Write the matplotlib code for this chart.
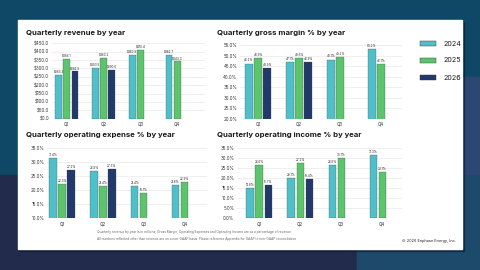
import numpy as np
import matplotlib.pyplot as plt
from matplotlib.patches import Rectangle

W, H = 480, 270

quarters = ['Q1', 'Q2', 'Q3', 'Q4']
years = ['2024', '2025', '2026']
colors = ['#4fc0c9', '#5cc46c', '#213a6b']

revenue = {
    '2024': [263.3, 303.5, 380.9, 382.7],
    '2025': [356.1, 363.2, 410.4, 343.3],
    '2026': [282.9, 290.6, None, None],
}
gross_margin = {
    '2024': [46.2, 47.1, 48.1, 53.2],
    '2025': [48.9, 48.6, 49.2, 46.1],
    '2026': [43.9, 46.9, None, None],
}
opex = {
    '2024': [31.4, 26.9, 21.4, 21.8],
    '2025': [22.3, 21.4, 19.1, 22.9],
    '2026': [27.2, 27.3, None, None],
}
op_income = {
    '2024': [14.8, 20.1, 26.6, 31.3],
    '2025': [26.6, 27.2, 30.1, 23.1],
    '2026': [16.7, 19.4, None, None],
}

footnote = ("Quarterly revenue by year is in millions; Gross Margin, Operating Expenses and Operating Income are as a percentage of revenue\n"
            "All numbers reflected other than revenue are on a non-GAAP basis. Please reference Appendix for GAAP to non-GAAP reconciliation")
copyright_text = "\u00a9 2026 Enphase Energy, Inc."

plt.rcParams['font.family'] = ['Inter', 'DejaVu Sans']

fig = plt.figure(figsize=(4.8, 2.7), dpi=100)


def px_axes(x0, y0, x1, y1, **kw):
    # pixel box (top-left origin) -> figure axes
    return fig.add_axes([x0 / W, 1 - y1 / H, (x1 - x0) / W, (y1 - y0) / H], **kw)


# background slide
bg = px_axes(0, 0, W, H)
bg.set_xlim(0, W)
bg.set_ylim(H, 0)
bg.axis('off')
bg.add_patch(Rectangle((0, 0), W, H, color='#0f4866'))
bg.add_patch(Rectangle((462, 77), 18, 193, color='#2c4772'))
bg.add_patch(Rectangle((0, 175), 357, 95, color='#222b4c'))
bg.add_patch(Rectangle((357, 175), 123, 95, color='#1d4a6b'))
bg.add_patch(Rectangle((19, 22), 445, 229, color='#0b1a30', alpha=0.5))
bg.add_patch(Rectangle((18, 20), 444, 229, color='white'))

# text on card
bg.text(97, 235.5, footnote, fontsize=2.3, color='#666666', va='center', linespacing=1.9)
bg.text(402, 241, copyright_text, fontsize=2.8, color='#222222', va='center')

titles = [
    (26, 33, 'Quarterly revenue by year'),
    (217, 33, 'Quarterly gross margin % by year'),
    (26, 134.5, 'Quarterly operating expense % by year'),
    (217, 134.5, 'Quarterly operating income % by year'),
]
for tx, ty, t in titles:
    bg.text(tx, ty, t, fontsize=5.6, fontweight='bold', color='#1b1b1b', va='center')

# legend
for i, yr in enumerate(years):
    ly = 43.5 + i * 17
    bg.add_patch(Rectangle((420, ly - 2.7), 16, 5.4, facecolor=colors[i],
                           edgecolor='#333333', linewidth=0.3))
    bg.text(444, ly, yr, fontsize=5.2, color='#1b1b1b', va='center')


def bar_panel(box, data, ylim, step, xlim, fmt_tick, fmt_label):
    ax = px_axes(*box)
    x = np.arange(len(quarters))
    bw = 0.18
    offs = [-0.22, 0.0, 0.22]
    for i, yr in enumerate(years):
        for j, v in enumerate(data[yr]):
            if v is None:
                continue
            ax.bar(x[j] + offs[i], v, bw, color=colors[i], edgecolor='#444444',
                   linewidth=0.2, zorder=3)
            ax.text(x[j] + offs[i], v + (ylim[1] - ylim[0]) * 0.015, fmt_label(v),
                    ha='center', va='bottom', fontsize=2.2, color='#222222', zorder=4)
    ax.set_ylim(*ylim)
    ax.set_xlim(*xlim)
    ticks = np.arange(ylim[0], ylim[1] + step / 2, step)
    ax.set_yticks(ticks)
    ax.set_yticklabels([fmt_tick(t) for t in ticks])
    ax.set_xticks(x)
    ax.set_xticklabels(quarters)
    ax.tick_params(axis='both', length=0, labelsize=3.2, colors='#333333', pad=2)
    ax.grid(axis='y', color='#e3e3e3', linewidth=0.4, zorder=0)
    for s in ax.spines.values():
        s.set_visible(False)
    ax.patch.set_alpha(0)
    return ax


bar_panel((52, 43.3, 206, 118.7), revenue, (0, 450), 50, (-0.4, 3.78),
          lambda t: f"${t:.1f}", lambda v: f"${v:.1f}")
bar_panel((240, 45, 402, 118.7), gross_margin, (20, 55), 5, (-0.44, 3.51),
          lambda t: f"{t:.1f}%", lambda v: f"{v:.1f}%")
bar_panel((47, 147.7, 207, 218.3), opex, (10, 35), 5, (-0.37, 3.55),
          lambda t: f"{t:.1f}%", lambda v: f"{v:.1f}%")
bar_panel((237, 147.7, 402, 218.3), op_income, (0, 35), 5, (-0.54, 3.48),
          lambda t: f"{t:.1f}%", lambda v: f"{v:.1f}%")

fig.savefig('out.png', dpi=100)
